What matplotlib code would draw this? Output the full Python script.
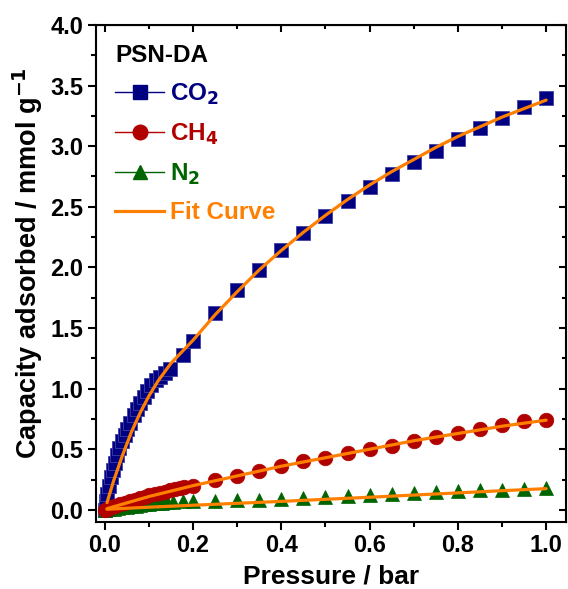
import matplotlib
matplotlib.use('Agg')
import matplotlib.pyplot as plt
from matplotlib.lines import Line2D
from matplotlib.ticker import MultipleLocator

plt.rcParams['font.family'] = ['Liberation Sans', 'DejaVu Sans']
plt.rcParams['font.weight'] = 'bold'

# CO2 isotherm (bar, mmol/g)
co2_p = [0.000, 0.003, 0.006, 0.010, 0.014, 0.018, 0.023, 0.028, 0.033, 0.039,
         0.045, 0.051, 0.058, 0.065, 0.072, 0.080, 0.088, 0.096, 0.105, 0.115,
         0.125, 0.136, 0.147, 0.177, 0.20, 0.25, 0.30, 0.35, 0.40, 0.45, 0.50,
         0.55, 0.60, 0.65, 0.70, 0.75, 0.80, 0.85, 0.90, 0.95, 1.00]
co2_q = [0.00, 0.07, 0.13, 0.20, 0.27, 0.33, 0.39, 0.45, 0.51, 0.57,
         0.62, 0.67, 0.72, 0.78, 0.83, 0.88, 0.93, 0.98, 1.03, 1.07,
         1.10, 1.13, 1.16, 1.28, 1.39, 1.62, 1.81, 1.98, 2.14, 2.28, 2.42,
         2.55, 2.66, 2.77, 2.87, 2.96, 3.06, 3.15, 3.23, 3.32, 3.40]

# CH4 isotherm
ch4_p = [0.000, 0.007, 0.015, 0.023, 0.034, 0.045, 0.056, 0.068, 0.079, 0.090,
         0.101, 0.113, 0.124, 0.136, 0.148, 0.160, 0.170, 0.180, 0.20, 0.25,
         0.30, 0.35, 0.40, 0.45, 0.50, 0.55, 0.60, 0.65, 0.70, 0.75, 0.80,
         0.85, 0.90, 0.95, 1.00]
ch4_q = [0.00, 0.01, 0.02, 0.03, 0.045, 0.06, 0.07, 0.08, 0.095, 0.11,
         0.12, 0.13, 0.14, 0.15, 0.16, 0.17, 0.18, 0.19, 0.20, 0.25,
         0.28, 0.32, 0.36, 0.40, 0.43, 0.47, 0.50, 0.53, 0.57, 0.60, 0.63,
         0.67, 0.70, 0.73, 0.74]

# N2 isotherm
n2_p = [0.000, 0.010, 0.020, 0.030, 0.040, 0.050, 0.060, 0.070, 0.080, 0.090,
        0.100, 0.110, 0.120, 0.130, 0.140, 0.155, 0.177, 0.20, 0.25, 0.30,
        0.35, 0.40, 0.45, 0.50, 0.55, 0.60, 0.65, 0.70, 0.75, 0.80, 0.85,
        0.90, 0.95, 1.00]
n2_q = [0.000, 0.005, 0.010, 0.015, 0.020, 0.025, 0.030, 0.035, 0.040, 0.045,
        0.050, 0.053, 0.056, 0.060, 0.063, 0.067, 0.072, 0.072, 0.075, 0.080,
        0.085, 0.090, 0.100, 0.110, 0.115, 0.125, 0.130, 0.140, 0.145, 0.155,
        0.160, 0.165, 0.170, 0.180]

# fitted curves
fit_co2_p = [0.005, 0.02, 0.04, 0.06, 0.08, 0.10, 0.12, 0.15, 0.20, 0.25, 0.30,
             0.35, 0.40, 0.45, 0.50, 0.55, 0.60, 0.65, 0.70, 0.75, 0.80, 0.85,
             0.90, 0.95, 1.00]
fit_co2_q = [0.06, 0.24, 0.45, 0.64, 0.80, 0.94, 1.06, 1.21, 1.40, 1.61, 1.80,
             1.98, 2.14, 2.29, 2.43, 2.56, 2.68, 2.79, 2.89, 2.99, 3.08, 3.16,
             3.24, 3.31, 3.38]
fit_ch4_p = [0.005, 0.10, 0.20, 0.30, 0.40, 0.50, 0.60, 0.70, 0.80, 0.90, 1.00]
fit_ch4_q = [0.01, 0.11, 0.20, 0.28, 0.36, 0.43, 0.50, 0.57, 0.63, 0.69, 0.74]
fit_n2_p = [0.005, 0.10, 0.20, 0.30, 0.40, 0.50, 0.60, 0.70, 0.80, 0.90, 1.00]
fit_n2_q = [0.005, 0.022, 0.038, 0.054, 0.070, 0.087, 0.104, 0.122, 0.140, 0.158, 0.175]

C_CO2 = '#000080'
C_CH4 = '#b00000'
C_N2 = '#006400'
C_FIT = '#ff8000'

fig = plt.figure(figsize=(5.68, 5.89), dpi=100)
ax = fig.add_axes([0.169, 0.1138, 0.8275, 0.8438])

ax.plot(co2_p, co2_q, 's', color=C_CO2, ms=9.5, mec='#4040a8', mew=0.6, zorder=3)
ax.plot(n2_p, n2_q, '^', color=C_N2, ms=10, mec=C_N2, mew=0.5, zorder=4)
ax.plot(ch4_p, ch4_q, 'o', color=C_CH4, ms=10.5, mec=C_CH4, mew=0.5, zorder=5)
for fp, fq in [(fit_co2_p, fit_co2_q), (fit_ch4_p, fit_ch4_q), (fit_n2_p, fit_n2_q)]:
    ax.plot(fp, fq, '-', color=C_FIT, lw=2.3, zorder=6, solid_capstyle='round')

ax.set_xlim(-0.02, 1.045)
ax.set_ylim(-0.1, 4.0)
ax.xaxis.set_major_locator(MultipleLocator(0.2))
ax.xaxis.set_minor_locator(MultipleLocator(0.1))
ax.yaxis.set_major_locator(MultipleLocator(0.5))
ax.yaxis.set_minor_locator(MultipleLocator(0.25))
ax.tick_params(which='both', direction='out', width=1.5, labelsize=17)
ax.tick_params(which='major', length=6, pad=3)
ax.tick_params(which='minor', length=3.5)
for s in ax.spines.values():
    s.set_linewidth(1.5)

top = ax.secondary_xaxis('top')
top.xaxis.set_major_locator(MultipleLocator(0.2))
top.xaxis.set_minor_locator(MultipleLocator(0.1))
top.tick_params(which='both', direction='in', width=1.5, labeltop=False)
top.tick_params(which='major', length=5)
top.tick_params(which='minor', length=3)
right = ax.secondary_yaxis('right')
right.yaxis.set_major_locator(MultipleLocator(0.5))
right.yaxis.set_minor_locator(MultipleLocator(0.25))
right.tick_params(which='both', direction='in', width=1.5, labelright=False)
right.tick_params(which='major', length=5)
right.tick_params(which='minor', length=3)

ax.set_xlabel('Pressure / bar', fontsize=19, fontweight='bold', labelpad=5)
ax.set_ylabel('Capacity adsorbed / mmol g$^{\\mathbf{-1}}$', fontsize=19.5,
              fontweight='bold')
ax.yaxis.set_label_coords(-0.108, 0.52)

handles = [
    Line2D([], [], color=C_CO2, marker='s', ms=9.5, lw=1),
    Line2D([], [], color=C_CH4, marker='o', ms=10.5, lw=1),
    Line2D([], [], color=C_N2, marker='^', ms=10, lw=1),
    Line2D([], [], color=C_FIT, lw=2.3),
]
labels = ['CO$_\\mathbf{2}$', 'CH$_\\mathbf{4}$', 'N$_\\mathbf{2}$', 'Fit Curve']
leg = ax.legend(handles, labels, loc='upper left', bbox_to_anchor=(0.0, 1.0),
                frameon=False, title='PSN-DA', alignment='left',
                title_fontproperties={'size': 17.5, 'weight': 'bold'},
                prop={'size': 17.5, 'weight': 'bold'},
                labelcolor=[C_CO2, C_CH4, C_N2, C_FIT],
                handlelength=2.0, handletextpad=0.25, labelspacing=0.6,
                borderaxespad=0.4)
plt.setp(leg.get_title(), color='black')

fig.savefig('out.png', dpi=100)
